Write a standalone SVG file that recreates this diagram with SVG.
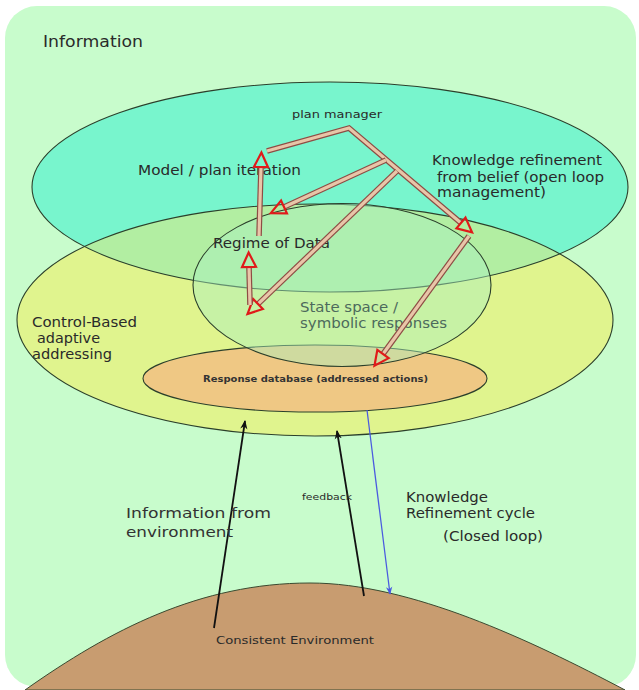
<svg xmlns="http://www.w3.org/2000/svg" width="639" height="690" viewBox="0 0 639 690">
  <style>
    text { font-family: "DejaVu Sans", Verdana, sans-serif; fill: #2a2a2a; }
    .outline { fill: none; stroke: #2b3f2b; stroke-width: 1.1; }
    .shaft-o { fill: none; stroke: #8e4c44; stroke-width: 5.6; stroke-linejoin: miter; }
    .shaft-i { fill: none; stroke: #e8c6a8; stroke-width: 3.2; stroke-linejoin: miter; }
    .blk { stroke: #111; stroke-width: 1.8; fill: none; }
  </style>
  <defs>
    <clipPath id="cyanClip">
      <ellipse cx="330" cy="187" rx="298" ry="105"/>
    </clipPath>
    <marker id="ah-red" markerUnits="userSpaceOnUse" markerWidth="22" markerHeight="22" viewBox="-3 -11 22 22" refX="0" refY="0" orient="auto">
      <path d="M0,-7 L14.5,0 L0,7 z" fill="none" stroke="#e01a1a" stroke-width="2.2" stroke-linejoin="miter"/>
    </marker>
    <marker id="ah-black" markerUnits="userSpaceOnUse" viewBox="0 0 10 10" refX="9" refY="5" markerWidth="9" markerHeight="9" orient="auto">
      <path d="M0,1 L10,5 L0,9 L3,5 z" fill="#111"/>
    </marker>
    <marker id="ah-blue" markerUnits="userSpaceOnUse" viewBox="0 0 10 10" refX="9" refY="5" markerWidth="8" markerHeight="8" orient="auto">
      <path d="M0,1 L10,5 L0,9 L3,5 z" fill="#4a5ae0"/>
    </marker>
  </defs>

  <rect width="639" height="690" fill="#ffffff"/>

  <g id="information">
    <rect x="5" y="6" width="631" height="681" rx="32" ry="32" fill="#c8fccc"/>
    <text x="43" y="47" font-size="15" textLength="100" lengthAdjust="spacingAndGlyphs">Information</text>
  </g>

  <g id="consistent-environment">
    <path d="M25,690 C110,630 200,583 310,583 C410,583 530,640 625,690 Z" fill="#c89c70" stroke="#3a4a30" stroke-width="1"/>
    <text x="216" y="644" font-size="11" textLength="158" lengthAdjust="spacingAndGlyphs">Consistent Environment</text>
  </g>

  <g id="control-based-addressing">
    <ellipse cx="315" cy="320" rx="298" ry="116" fill="#e0f48e"/>
    <text x="32" y="327" font-size="13.5" textLength="105" lengthAdjust="spacingAndGlyphs">Control-Based</text>
    <text x="37" y="343" font-size="13.5" textLength="63" lengthAdjust="spacingAndGlyphs">adaptive</text>
    <text x="32" y="359" font-size="13.5" textLength="80" lengthAdjust="spacingAndGlyphs">addressing</text>
  </g>

  <g id="plan-manager">
    <ellipse cx="330" cy="187" rx="298" ry="105" fill="#78f5cd"/>
    <ellipse cx="315" cy="320" rx="298" ry="116" fill="#b2eea2" clip-path="url(#cyanClip)"/>
    <ellipse cx="330" cy="187" rx="298" ry="105" class="outline"/>
    <ellipse cx="315" cy="320" rx="298" ry="116" class="outline"/>
    <text x="292" y="118" font-size="11" textLength="90" lengthAdjust="spacingAndGlyphs">plan manager</text>
    <text x="138" y="175" font-size="13.5" textLength="163" lengthAdjust="spacingAndGlyphs">Model / plan iteration</text>
    <text x="432" y="165" font-size="13.5" textLength="170" lengthAdjust="spacingAndGlyphs">Knowledge refinement</text>
    <text x="437" y="182" font-size="13.5" textLength="167" lengthAdjust="spacingAndGlyphs">from belief (open loop</text>
    <text x="437" y="197" font-size="13.5" textLength="109" lengthAdjust="spacingAndGlyphs">management)</text>
  </g>

  <g id="response-database">
    <ellipse cx="315" cy="378.5" rx="172" ry="33.5" class="outline" style="fill:#efc884"/>
    <text x="203" y="382" font-size="9.5" font-weight="bold" style="fill:#333" textLength="225" lengthAdjust="spacingAndGlyphs">Response database (addressed actions)</text>
  </g>

  <g id="state-space">
    <ellipse cx="342" cy="285" rx="149" ry="81.5" fill="#a8f0c0" fill-opacity="0.45" stroke="#2b3f2b" stroke-width="1.1"/>
    <text x="213" y="248" font-size="13.5" textLength="117" lengthAdjust="spacingAndGlyphs">Regime of Data</text>
    <text x="300" y="312" font-size="13.5" style="fill:#4d6a5c" textLength="98" lengthAdjust="spacingAndGlyphs">State space /</text>
    <text x="300" y="328" font-size="13.5" style="fill:#4d6a5c" textLength="147" lengthAdjust="spacingAndGlyphs">symbolic responses</text>
  </g>

  <g id="connectors">
    <path class="shaft-o" d="M267,151 L349,128 L461,223"/>
    <path class="shaft-i" d="M267,151 L349,128 L461,223" marker-end="url(#ah-red)"/>
    <path class="shaft-o" d="M259,236 L261,167"/>
    <path class="shaft-i" d="M259,236 L261,167" marker-end="url(#ah-red)"/>
    <path class="shaft-o" d="M386,160 L284,207"/>
    <path class="shaft-i" d="M386,160 L284,207" marker-end="url(#ah-red)"/>
    <path class="shaft-o" d="M397,171 L258,304"/>
    <path class="shaft-i" d="M397,171 L258,304" marker-end="url(#ah-red)"/>
    <path class="shaft-o" d="M250,305 L249,267"/>
    <path class="shaft-i" d="M250,305 L249,267" marker-end="url(#ah-red)"/>
    <path class="shaft-o" d="M469,236 L383,354"/>
    <path class="shaft-i" d="M469,236 L383,354" marker-end="url(#ah-red)"/>
    <line class="blk" x1="214" y1="628" x2="245" y2="421" marker-end="url(#ah-black)"/>
    <line class="blk" x1="364" y1="596" x2="337" y2="431" marker-end="url(#ah-black)"/>
    <line x1="367" y1="410" x2="390" y2="594" stroke="#4a5ae0" stroke-width="1.3" marker-end="url(#ah-blue)"/>
    <text x="302" y="500" font-size="9.5" textLength="50" lengthAdjust="spacingAndGlyphs">feedback</text>
    <text x="126" y="518" font-size="14" style="fill:#333" textLength="145" lengthAdjust="spacingAndGlyphs">Information from</text>
    <text x="126" y="537" font-size="14" style="fill:#333" textLength="107" lengthAdjust="spacingAndGlyphs">environment</text>
    <text x="406" y="502" font-size="13.5" textLength="82" lengthAdjust="spacingAndGlyphs">Knowledge</text>
    <text x="406" y="518" font-size="13.5" textLength="129" lengthAdjust="spacingAndGlyphs">Refinement cycle</text>
    <text x="443" y="541" font-size="13.5" textLength="100" lengthAdjust="spacingAndGlyphs">(Closed loop)</text>
  </g>
</svg>
